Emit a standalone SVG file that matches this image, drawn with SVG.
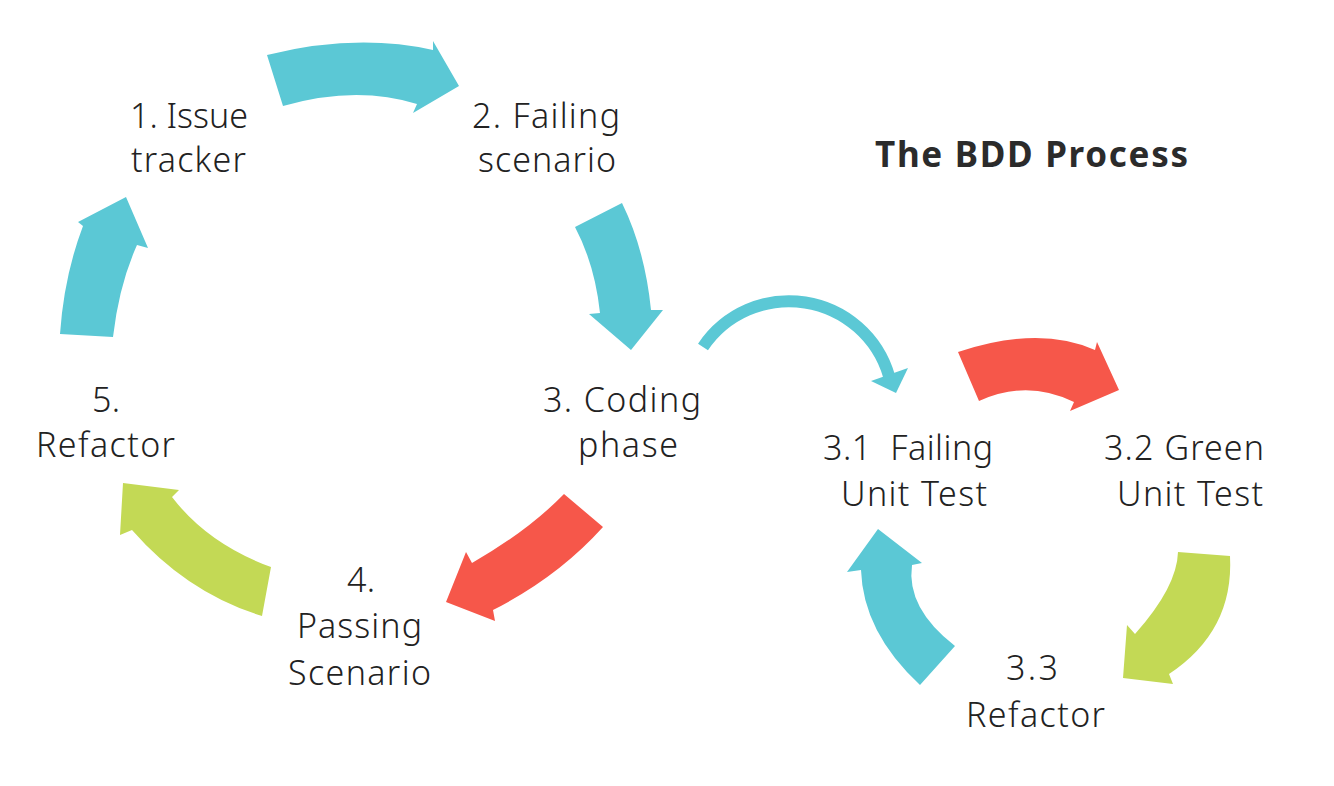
<svg xmlns="http://www.w3.org/2000/svg" width="1334" height="786" viewBox="0 0 1334 786">
<style>
.t{font-family:"Noto Sans","Open Sans","DejaVu Sans",sans-serif;font-size:34px;font-weight:300;fill:#222;text-anchor:middle}
.h{font-family:"Noto Sans","Open Sans","DejaVu Sans",sans-serif;font-size:35px;font-weight:700;fill:#2b2b2b;text-anchor:middle}
.teal{fill:#5BC8D5}
.red{fill:#F6574A}
.green{fill:#C3D955}
</style>
<rect width="1334" height="786" fill="#ffffff"/>
<text class="h" x="1031.5" y="167" textLength="313">The BDD Process</text>
<g id="n1"><text class="t" x="189" y="128" textLength="118">1. Issue</text><text class="t" x="188.5" y="172" textLength="115">tracker</text></g>
<g id="n2"><text class="t" x="546" y="128" textLength="148">2. Failing</text><text class="t" x="547" y="172" textLength="138">scenario</text></g>
<g id="n3"><text class="t" x="622" y="412" textLength="158">3. Coding</text><text class="t" x="628" y="457" textLength="100">phase</text></g>
<g id="n4"><text class="t" x="361" y="592" textLength="28">4.</text><text class="t" x="359.5" y="638" textLength="125">Passing</text><text class="t" x="359.5" y="685" textLength="143">Scenario</text></g>
<g id="n5"><text class="t" x="106" y="412" textLength="28">5.</text><text class="t" x="105.5" y="457" textLength="139">Refactor</text></g>
<g id="n31"><text class="t" x="908" y="460" textLength="170">3.1&#160; Failing</text><text class="t" x="914" y="506" textLength="146">Unit Test</text></g>
<g id="n32"><text class="t" x="1184" y="460" textLength="160">3.2 Green</text><text class="t" x="1190" y="506" textLength="146">Unit Test</text></g>
<g id="n33"><text class="t" x="1032" y="680" textLength="52">3.3</text><text class="t" x="1035.5" y="727" textLength="139">Refactor</text></g>
<g id="connectors">
<path class="teal" d="M267,55 Q356,33 433,50 L433,41 L459,86 L413,113 L417,104 Q356,85 283,106 Z"/>
<path class="teal" d="M575,227 Q595,265 600,313 L589,314 L631,350 L663,310 L651,310 Q645,250 622,203 Z"/>
<path class="red" d="M564,494 Q528,531 472,563 L466,552 L446,602 L495,621 L493,610 Q558,577 603,527 Z"/>
<path class="green" d="M123,483 L179,490 L172,497 Q208,544 271,567 L262,616 Q187,593 132,530 L120,535 Z"/>
<path class="teal" d="M60,334 Q64,276 83,226 L78,222 L126,197 L148,248 L137,245 Q119,285 113,337 Z"/>
<path d="M703,347 A104,104 0 0 1 889,376" fill="none" stroke="#5BC8D5" stroke-width="12"/>
<polygon class="teal" points="871,381 908,368 896,393"/>
<path class="red" d="M958,352 Q1039,325 1095,350 L1097,342 L1119,390 L1070,411 L1074,402 Q1027,379 979,401 Z"/>
<path class="green" d="M1178,552 Q1177,587 1135,634 L1127,625 L1123,678 L1173,684 L1169,674 Q1234,631 1230,556 Z"/>
<path class="teal" d="M878,529 L922,563 L912,565 Q906,608 955,646 L920,685 Q863,632 861,570 L847,572 Z"/>
</g>
</svg>
